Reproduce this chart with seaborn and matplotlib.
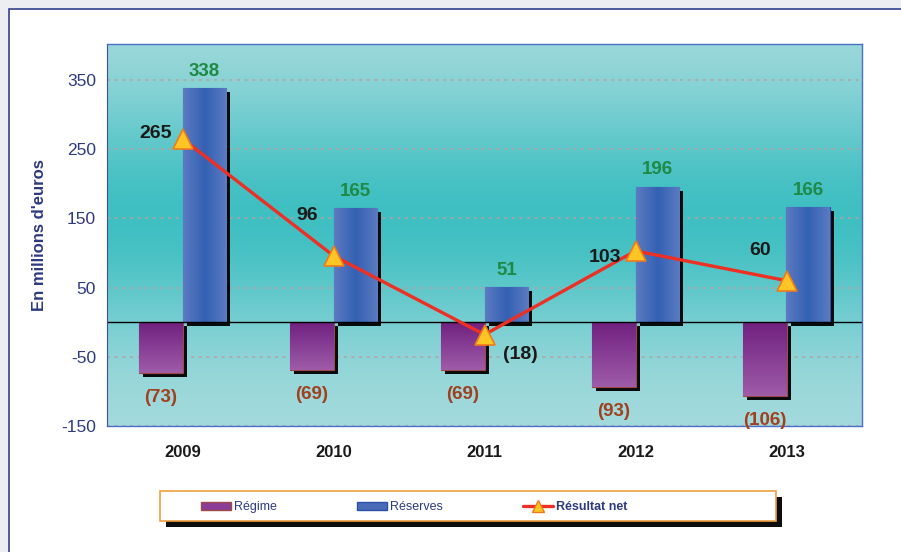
import seaborn as sns
import matplotlib.pyplot as plt
import matplotlib.patheffects as pe
from matplotlib.patches import Rectangle, FancyBboxPatch
from matplotlib.lines import Line2D
import pandas as pd
import numpy as np

sns.set_style("white")
plt.rcParams['font.family'] = ['Liberation Sans', 'DejaVu Sans']
plt.rcParams['axes.unicode_minus'] = False

# data
years = ["2009", "2010", "2011", "2012", "2013"]
regime = [-73, -69, -69, -93, -106]
reserves = [338, 165, 51, 196, 166]
resultat_net = [265, 96, -18, 103, 60]

# label offsets for the net result (points)
net_offsets = [(-19, 4), (-19, 29), (26, -14), (-22, -5), (-19, 22)]

NAVY = "#2e3a80"
df = pd.DataFrame({
    "annee": years * 2,
    "valeur": regime + reserves,
    "serie": ["Régime"] * len(years) + ["Réserves"] * len(years),
})


def fmt(v):
    return f"({abs(v)})" if v < 0 else f"{v}"


fig = plt.figure(figsize=(9.01, 5.52), dpi=100)
fig.patch.set_facecolor("#eceef2")
# white card with frame
fig.add_artist(Rectangle((9 / 901, -0.05), 1.2, 1 - 9 / 552 + 0.05, transform=fig.transFigure,
                         facecolor="white", edgecolor="#34408a", lw=1.2, zorder=0))

ax = fig.add_axes([107 / 901, 1 - 426 / 552, 755 / 901, 382 / 552])
ax.set_facecolor("none")

# background gradient
t = np.linspace(0, 1, 256)
prof = np.exp(-((t - 0.55) / 0.32) ** 2)
c_light = np.array([0.66, 0.86, 0.87])
c_dark = np.array([0.25, 0.75, 0.76])
grad = c_light[None, :] * (1 - prof[:, None]) + c_dark[None, :] * prof[:, None]
ax.imshow(grad[:, None, :], extent=[0, 1, 0, 1], transform=ax.transAxes,
          origin="lower", aspect="auto", zorder=0)

sns.barplot(data=df, x="annee", y="valeur", hue="serie",
            hue_order=["Régime", "Réserves"],
            palette={"Régime": "#8a3c96", "Réserves": "#4a6cb8"},
            width=0.58, dodge=True, ax=ax, legend=False, zorder=2)

shadow = [pe.SimplePatchShadow(offset=(3, -3), shadow_rgbFace="black", alpha=0.95), pe.Normal()]
edges = ["#a04848", "#2a50a8"]
for k, cont in enumerate(ax.containers):
    for bar in cont:
        bar.set_edgecolor(edges[k])
        bar.set_linewidth(0.8)
        bar.set_path_effects(shadow)
        x0, y0 = bar.get_x(), bar.get_y()
        w, h = bar.get_width(), bar.get_height()
        ext = [x0, x0 + w, min(y0, y0 + h), max(y0, y0 + h)]
        if k == 0:
            # vertical gradient, dark at the top
            g = np.linspace(0, 1, 64)
            top = np.array([0.44, 0.13, 0.50])
            bot = np.array([0.62, 0.36, 0.66])
            img = (top[None, :] * (1 - g[:, None]) + bot[None, :] * g[:, None])[:, None, :]
            origin = "upper"
        else:
            # horizontal gradient, darker in the middle
            g = np.abs(np.linspace(-1, 1, 64))
            mid = np.array([0.20, 0.38, 0.70])
            side = np.array([0.36, 0.48, 0.76])
            img = (mid[None, :] * (1 - g[:, None]) + side[None, :] * g[:, None])[None, :, :]
            origin = "lower"
        im = ax.imshow(img, extent=ext, origin=origin, aspect="auto", zorder=2.1,
                       interpolation="bilinear")
        im.set_clip_path(bar)

xpos = np.arange(len(years))
ax.axhline(0, color="black", lw=1.0, zorder=2.5)

sns.lineplot(x=xpos, y=resultat_net, color="#ee3024", lw=2.4, marker="^",
             markersize=14, markerfacecolor="#ffc525", markeredgecolor="#f07a1a",
             markeredgewidth=1.2, ax=ax, zorder=4)

# value labels
for i in range(len(years)):
    ax.annotate(fmt(reserves[i]), (i + 0.145, reserves[i]), xytext=(0, 12),
                textcoords="offset points", ha="center", va="center",
                fontsize=13.5, fontweight="bold", color="#1e8a44", zorder=5)
    ax.annotate(fmt(regime[i]), (i - 0.145, regime[i]), xytext=(0, -18),
                textcoords="offset points", ha="center", va="center",
                fontsize=13.5, fontweight="bold", color="#a0401e", zorder=5)
    ax.annotate(fmt(resultat_net[i]), (i, resultat_net[i]), xytext=net_offsets[i],
                textcoords="offset points", ha="center", va="center",
                fontsize=14, fontweight="bold", color="#1a1a1a", zorder=5)

ax.set_xlim(-0.5, len(years) - 0.5)
ax.set_ylim(-150, 402)
ax.set_yticks(np.arange(-150, 351, 100))
ax.yaxis.grid(True, linestyle=(0, (2, 3)), color="#b4a2a2", lw=1.1)
ax.set_axisbelow(True)
for gl in ax.get_ygridlines():
    gl.set_zorder(1)

ax.tick_params(axis="y", direction="out", length=4, width=1, color="#4050a0",
               labelsize=12.5, labelcolor=NAVY, pad=4)
ax.tick_params(axis="x", length=0, pad=14, labelsize=12, labelcolor="#1a1a1a")
for lab in ax.get_xticklabels():
    lab.set_fontweight("bold")
ax.set_xlabel("")
ax.set_ylabel("En millions d'euros", fontsize=12, fontweight="bold", color=NAVY, labelpad=10)
for s in ["top", "right", "bottom"]:
    ax.spines[s].set_color("#4a70c8")
    ax.spines[s].set_linewidth(1)
ax.spines["left"].set_color("#4050a0")

# legend box
box = FancyBboxPatch((160 / 901, 1 - 521 / 552), 616 / 901, 30 / 552, boxstyle="square,pad=0",
                     transform=fig.transFigure, facecolor="white", edgecolor="#f0a040", lw=1.2,
                     path_effects=[pe.SimplePatchShadow(offset=(4, -4), shadow_rgbFace="black", alpha=0.95),
                                   pe.Normal()], zorder=3)
fig.add_artist(box)
handles = [
    Rectangle((0, 0), 1, 1, facecolor="#8a3c96", edgecolor="#a04848"),
    Rectangle((0, 0), 1, 1, facecolor="#4a6cb8", edgecolor="#2a50a8"),
    Line2D([0], [0], color="#ee3024", lw=2.4, marker="^", markersize=9,
           markerfacecolor="#ffc525", markeredgecolor="#f07a1a"),
]
leg = fig.legend(handles, ["Régime", "Réserves", "Résultat net"], ncol=3,
                 loc="center left", bbox_to_anchor=(201 / 901, 1 - 507 / 552), frameon=False,
                 fontsize=9, handlelength=2.4, handleheight=0.6, handletextpad=0.25,
                 columnspacing=6.4, borderpad=0, borderaxespad=0)
leg.set_zorder(4)
for txt in leg.get_texts():
    txt.set_color(NAVY)
leg.get_texts()[2].set_fontweight("bold")

fig.savefig("out.png", dpi=100, facecolor=fig.get_facecolor())
plt.close(fig)
